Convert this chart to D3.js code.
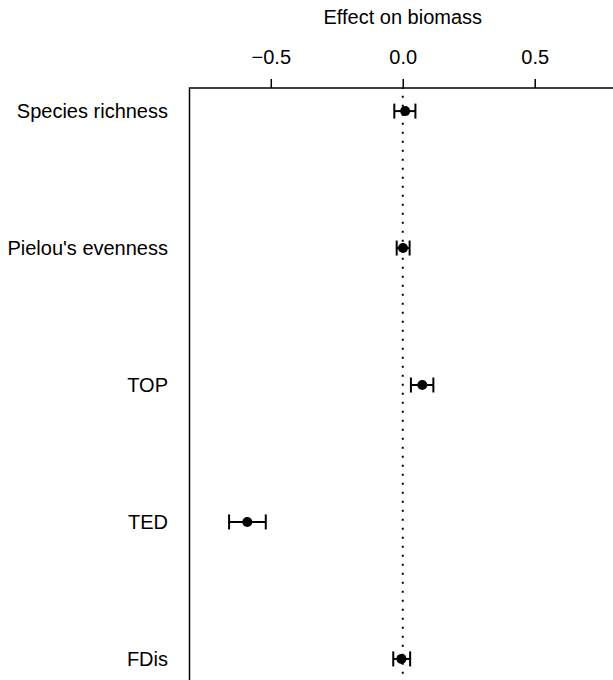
<!DOCTYPE html>
<html>
<head>
<meta charset="utf-8">
<script src="https://cdn.jsdelivr.net/npm/d3@7"></script>
<style>
  html, body { margin: 0; padding: 0; background: #fff; }
  svg { display: block; }
  text { font-family: "Liberation Sans", Arial, Helvetica, sans-serif; fill: #000; }
</style>
</head>
<body>
<svg id="chart"></svg>
<script>
// values
var predictors = ['Species richness', "Pielou's evenness", 'TOP', 'TED', 'FDis'];
var estimate = [0.009, 0.001, 0.074, -0.589, -0.005];
var lower = [-0.032, -0.023, 0.031, -0.658, -0.036];
var upper = [0.048, 0.026, 0.116, -0.519, 0.028];
var tickValues = [-0.5, 0, 0.5];
var tickLabels = ['\u22120.5', '0.0', '0.5'];
var xTitle = 'Effect on biomass';

document.addEventListener('DOMContentLoaded', () => {
  var width = 613;
  var height = 680;
  var box = { left: 189.5, top: 88, right: 616, bottom: 681.5 };

  var x = d3.scaleLinear()
    .domain([-0.808, 0.808])
    .range([box.left, box.right]);

  var y = d3.scalePoint()
    .domain(predictors)
    .range([88.5, 681.5])
    .padding(0.165);

  var svg = d3.select('#chart')
    .attr('width', width)
    .attr('height', height);

  // plot box
  svg.append('rect')
    .attr('x', box.left)
    .attr('y', box.top)
    .attr('width', box.right - box.left)
    .attr('height', box.bottom - box.top)
    .attr('fill', 'none')
    .attr('stroke', '#000')
    .attr('stroke-width', 1.5);

  // top axis
  var xAxis = d3.axisTop(x)
    .tickValues(tickValues)
    .tickSize(9)
    .tickPadding(15)
    .tickFormat((d, i) => tickLabels[i]);

  var axis = svg.append('g')
    .attr('transform', `translate(0, ${ box.top })`)
    .call(xAxis);
  axis.select('.domain').remove();
  axis.selectAll('line').attr('stroke', '#000').attr('stroke-width', 1.5);
  axis.selectAll('text')
    .attr('font-size', 20)
    .attr('font-family', '"Liberation Sans", Arial, Helvetica, sans-serif')
    .attr('fill', '#000');

  svg.append('text')
    .attr('x', x(0))
    .attr('y', 24)
    .attr('text-anchor', 'middle')
    .attr('font-size', 20)
    .text(xTitle);

  // row labels
  svg.selectAll('.label')
    .data(predictors)
    .enter().append('text')
      .attr('class', 'label')
      .attr('x', 168)
      .attr('y', d => y(d))
      .attr('dy', '0.36em')
      .attr('text-anchor', 'end')
      .attr('font-size', 20)
      .text(d => d);

  // zero reference line
  svg.append('line')
    .attr('x1', x(0))
    .attr('x2', x(0))
    .attr('y1', box.top)
    .attr('y2', box.bottom)
    .attr('stroke', '#000')
    .attr('stroke-width', 2)
    .attr('stroke-dasharray', '2,7')
    .attr('stroke-dashoffset', 1.3);

  // intervals
  var rows = predictors.map((p, i) => ({ name: p, est: estimate[i], lo: lower[i], hi: upper[i] }));
  var g = svg.selectAll('.ci')
    .data(rows)
    .enter().append('g')
      .attr('class', 'ci');

  g.append('line')
    .attr('x1', d => x(d.lo))
    .attr('x2', d => x(d.hi))
    .attr('y1', d => y(d.name))
    .attr('y2', d => y(d.name))
    .attr('stroke', '#000')
    .attr('stroke-width', 2);

  ['lo', 'hi'].forEach(k => {
    g.append('line')
      .attr('x1', d => x(d[k]))
      .attr('x2', d => x(d[k]))
      .attr('y1', d => y(d.name) - 7.5)
      .attr('y2', d => y(d.name) + 7.5)
      .attr('stroke', '#000')
      .attr('stroke-width', 2);
  });

  g.append('circle')
    .attr('cx', d => x(d.est))
    .attr('cy', d => y(d.name))
    .attr('r', 5)
    .attr('fill', '#000');
});
</script>
</body>
</html>
